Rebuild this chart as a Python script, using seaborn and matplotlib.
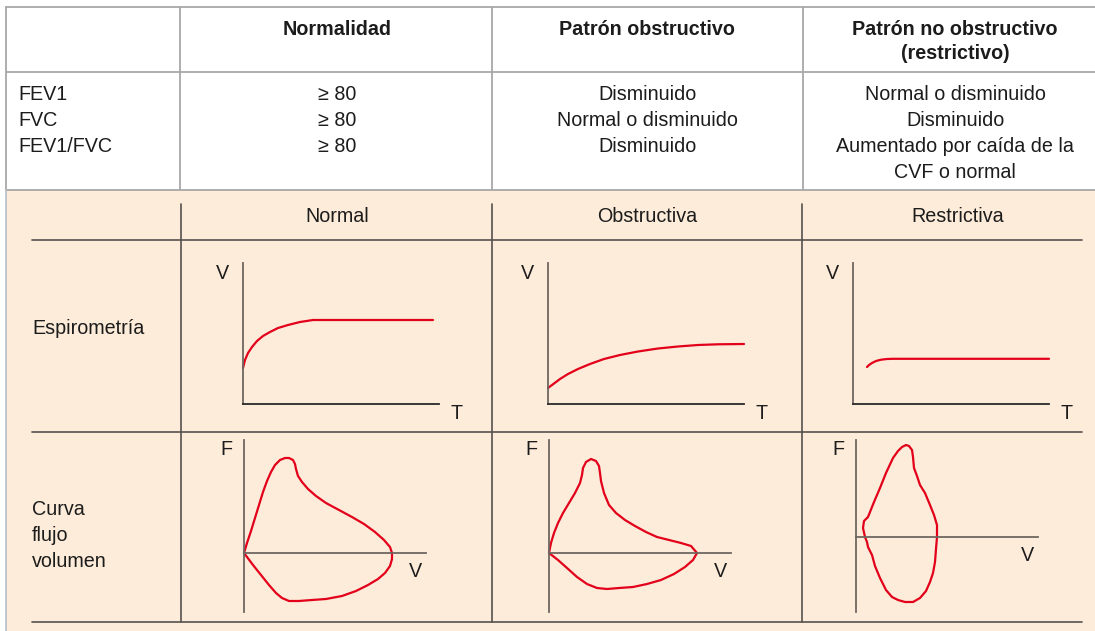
import numpy as np
import pandas as pd
import seaborn as sns
import matplotlib.pyplot as plt
from matplotlib.patches import Rectangle

# ---- table text ----
col_headers = ["Normalidad", "Patrón obstructivo", "Patrón no obstructivo\n(restrictivo)"]
params = ["FEV1", "FVC", "FEV1/FVC"]
normalidad = ["\u2265 80", "\u2265 80", "\u2265 80"]
obstructivo = ["Disminuido", "Normal o disminuido", "Disminuido"]
restrictivo = ["Normal o disminuido", "Disminuido", "Aumentado por caída de la", "CVF o normal"]

panel_cols = ["Normal", "Obstructiva", "Restrictiva"]
panel_rows = ["Espirometría", "Curva\nflujo\nvolumen"]

# ---- spirometry curves (time vs volume, arbitrary units from the axis origin) ----
spiro_t_normal = [0, 2, 5, 9, 14, 20, 27, 35, 45, 57, 70, 190]
spiro_v_normal = [36, 44, 51, 57, 63, 68, 72, 76, 79, 82, 84, 84]
spiro_t_obstr = [0, 6, 12, 20, 30, 42, 56, 72, 90, 110, 130, 150, 170, 196]
spiro_v_obstr = [16, 20.5, 25, 30, 35, 40, 45, 49, 52.5, 55.5, 57.5, 59, 59.7, 60]
spiro_t_restr = [14, 16, 19, 23, 28, 34, 40, 196]
spiro_v_restr = [37, 39, 41, 43, 44.3, 45, 45.2, 45.2]

# ---- flow-volume loops (volume vs flow) ----
loop_v_normal = [0, 3, 7, 11, 15, 19, 23, 27, 31, 36, 41, 45, 49, 51, 52, 54, 58, 64, 72, 82, 95, 108, 120,
                 131, 140, 146, 148,
                 148, 146, 141, 134, 124, 112, 98, 82, 68, 55, 45, 38, 32, 25, 17, 9, 3, 0]
loop_f_normal = [0, 10, 22, 35, 48, 61, 72, 81, 88, 93, 95, 95, 93, 89, 84, 77, 71, 64, 57, 50, 43, 36, 29,
                 21, 13, 6, 0,
                 -6, -13, -20, -26, -32, -38, -43, -46, -47, -48, -48, -45, -40, -32, -22, -12, -4, 0]
loop_v_obstr = [0, 2, 5, 9, 14, 20, 26, 31, 33, 34, 37, 42, 47, 50, 51, 52, 55, 60, 67, 76, 86, 97, 108,
                120, 132, 142, 148,
                144, 136, 125, 112, 98, 84, 70, 58, 48, 38, 28, 18, 9, 0]
loop_f_obstr = [0, 10, 20, 30, 40, 50, 60, 70, 78, 85, 91, 94, 92, 87, 80, 72, 60, 48, 40, 33, 27, 21, 16,
                13, 10, 7, 0,
                -7, -14, -21, -27, -31, -34, -35, -36, -35, -31, -24, -15, -7, 0]
loop_v_restr = [9, 7, 8, 12, 18, 24, 30, 37, 42, 46, 50, 53, 56, 57, 58, 61, 64, 69, 74, 78, 81, 81,
                80, 79, 77, 74, 70, 64, 57, 49, 42, 36, 30, 24, 19, 16, 12, 11, 9]
loop_f_restr = [0, 9, 16, 20, 35, 49, 64, 79, 86, 90, 92, 91, 87, 80, 69, 61, 52, 44, 32, 22, 12, 0,
                -12, -25, -36, -45, -54, -61, -65, -65, -63, -60, -53, -41, -29, -18, -10, -5, 0]

RED = "#e2001a"
PEACH = "#fdecd9"
GRID = "#a8a8a8"
DARK = "#57514d"
AXC = "#6e6661"
TXT = "#1c1c1c"

sns.set_style("white")
plt.rcParams["font.family"] = ["Liberation Sans", "DejaVu Sans"]

W, H = 1095, 631
fig = plt.figure(figsize=(W / 100, H / 100), dpi=100)
bg = fig.add_axes([0, 0, 1, 1])
bg.set_xlim(0, W)
bg.set_ylim(H, 0)
bg.axis("off")

FS = 14.2
CAP = 7.0  # half cap height in px, to place text by visual centre

def txt(x, y, s, ha="center", weight="normal"):
    bg.text(x, y + CAP, s, ha=ha, va="baseline", fontsize=FS, color=TXT, fontweight=weight)

# ---- upper table ----
bg.add_patch(Rectangle((6, 190), W - 6, H - 190, facecolor=PEACH, edgecolor="none", zorder=0))
bg.plot([6, W], [7, 7], color=GRID, lw=1.3)
bg.plot([6, W], [72, 72], color=GRID, lw=1.3)
bg.plot([6, W], [190, 190], color=GRID, lw=1.3)
bg.plot([6, 6], [7, 190], color=GRID, lw=1.3)
bg.plot([6, 6], [190, H], color="#b9c3cf", lw=1.3)
for x in [180, 492, 803]:
    bg.plot([x, x], [7, 190], color=GRID, lw=1.3)

head_x = [337, 647, 955]
for cx, h in zip(head_x, col_headers):
    for i, line in enumerate(h.split("\n")):
        txt(cx, 28 + i * 24, line, weight="bold")

row_y = [93, 119, 145, 171]
for y, s in zip(row_y, params):
    txt(18, y, s, ha="left")
for y, s in zip(row_y, normalidad):
    txt(337, y, s)
for y, s in zip(row_y, obstructivo):
    txt(647, y, s)
for y, s in zip(row_y, restrictivo):
    txt(955, y, s)

# ---- lower panel grid ----
for y in [240, 432, 622]:
    bg.plot([32, 1082], [y, y], color=DARK, lw=1.2)
for x in [181, 492, 802]:
    bg.plot([x, x], [204, 622], color=DARK, lw=1.2)

for cx, s in zip([337, 647, 958], panel_cols):
    txt(cx, 215, s)
txt(32, 327, panel_rows[0], ha="left")
for i, line in enumerate(panel_rows[1].split("\n")):
    txt(32, 508 + i * 26, line, ha="left")


def mini_axes(x0, x1, ytop, ybot):
    ax = fig.add_axes([x0 / W, 1 - ybot / H, (x1 - x0) / W, (ybot - ytop) / H])
    ax.set_facecolor("none")
    for s in ["top", "right"]:
        ax.spines[s].set_visible(False)
    for s in ["left", "bottom"]:
        ax.spines[s].set_color(AXC)
        ax.spines[s].set_linewidth(1.3)
    ax.set_xticks([])
    ax.set_yticks([])
    return ax


# spirometry panels
spiro = [(243, spiro_t_normal, spiro_v_normal),
         (548, spiro_t_obstr, spiro_v_obstr),
         (853, spiro_t_restr, spiro_v_restr)]
for ox, t, v in spiro:
    ax = mini_axes(ox, ox + 196, 263, 404)
    ax.spines["bottom"].set_color("#2a2a2a")
    sns.lineplot(x=t, y=v, ax=ax, sort=False, estimator=None, color=RED, lw=1.6)
    for l in ax.lines:
        l.set_clip_on(False)
        l.set_solid_joinstyle("round")
    ax.set_xlim(0, 196)
    ax.set_ylim(0, 141)
    txt(ox - 21, 272, "V")
    txt(ox + 214, 412, "T")

# flow-volume panels
loops = [(244, 553, loop_v_normal, loop_f_normal),
         (549, 553, loop_v_obstr, loop_f_obstr),
         (856, 537, loop_v_restr, loop_f_restr)]
for ox, oy, v, f in loops:
    ax = mini_axes(ox, ox + 182, 440, 612)
    ax.spines["bottom"].set_position(("data", 0))
    df = pd.DataFrame({"vol": v, "flow": f})
    sns.lineplot(data=df, x="vol", y="flow", ax=ax, sort=False, estimator=None, color=RED, lw=1.6)
    for l in ax.lines:
        l.set_clip_on(False)
        l.set_solid_joinstyle("round")
    ax.set_xlim(0, 182)
    ax.set_ylim(oy - 612, oy - 440)
    ax.set_xlabel("")
    ax.set_ylabel("")
    txt(ox - 18, 448, "F")
    txt(ox + 171, oy + 17, "V")

fig.savefig("out.png", dpi=100)
